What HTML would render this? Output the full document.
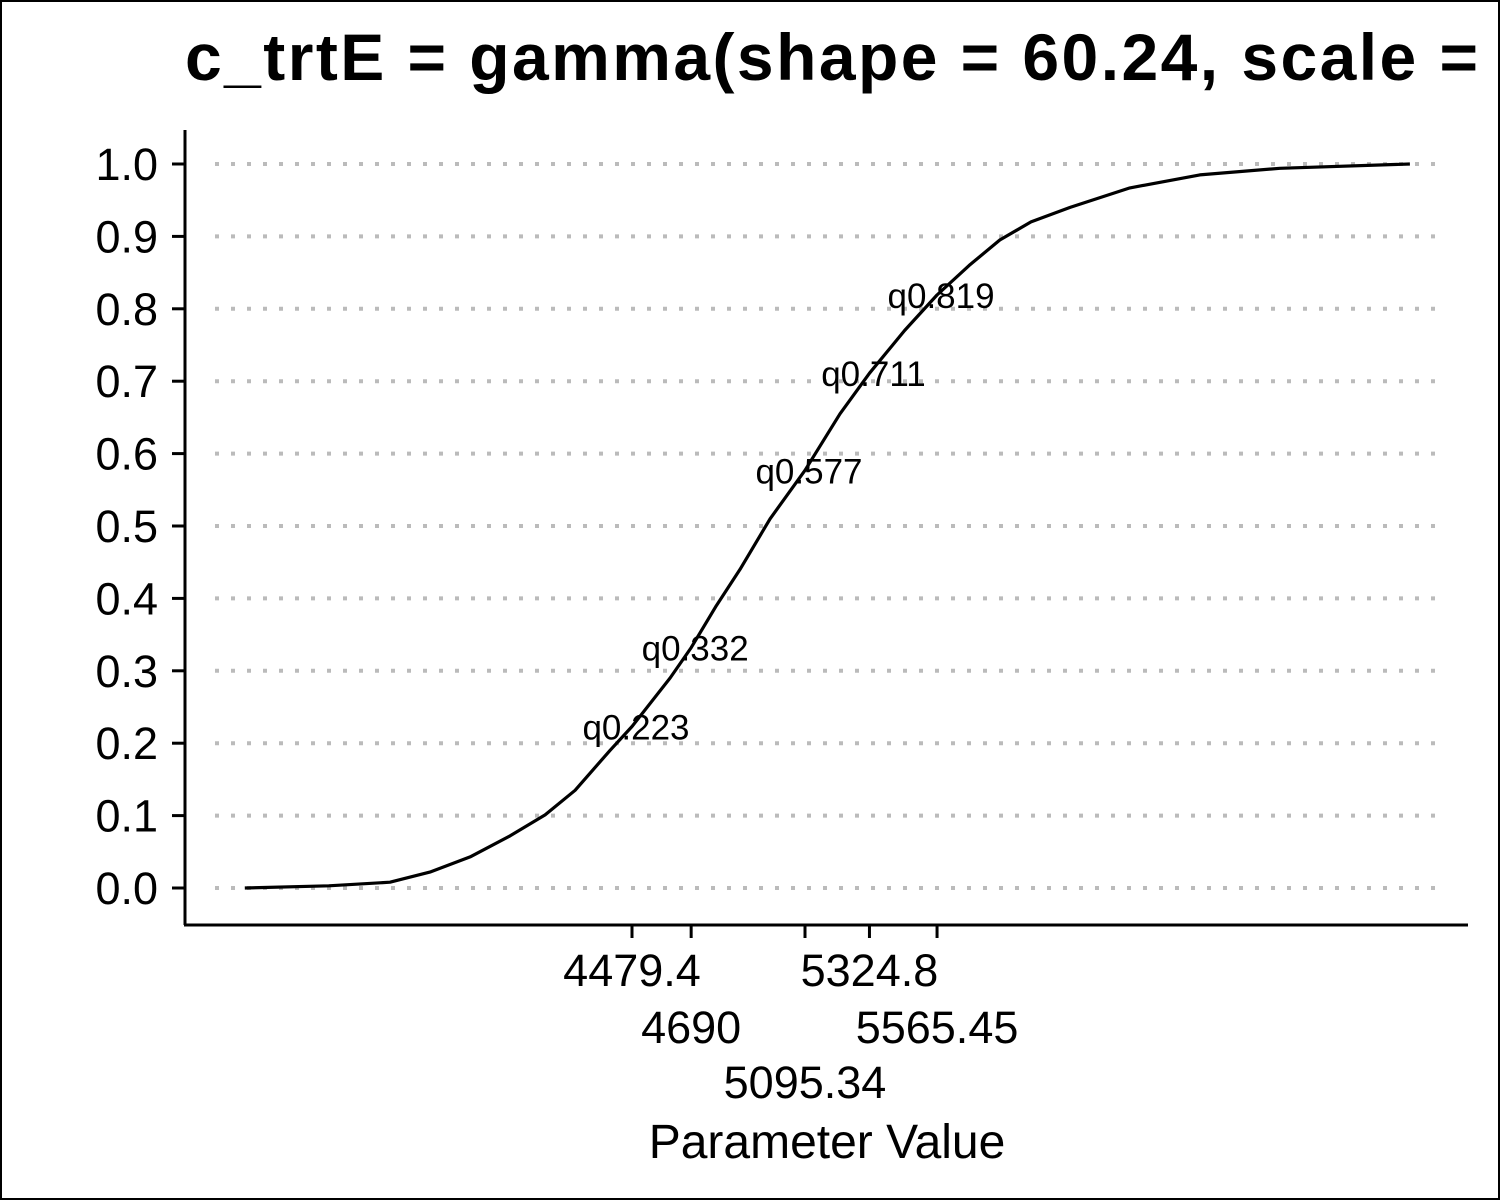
<!DOCTYPE html>
<html><head><meta charset="utf-8"><style>
html,body{margin:0;padding:0;background:#fff;}
svg{display:block;font-family:"Liberation Sans",Arial,sans-serif;}
</style></head><body>
<svg id="chart" width="1500" height="1200" viewBox="0 0 1500 1200">
<rect x="1" y="1" width="1498" height="1198" fill="#fff" stroke="#000" stroke-width="2"/>
<clipPath id="clip"><rect x="0" y="0" width="1498" height="1200"/></clipPath>
<g clip-path="url(#clip)"><text x="185" y="80" font-size="66" font-weight="bold"><tspan textLength="1293" lengthAdjust="spacing">c_trtE = gamma(shape = 60.24, scale =</tspan><tspan x="1510"> 84.58)</tspan></text></g>
<g id="grid"></g>
<g id="yaxis"></g>
<g id="xaxis"></g>
<path id="curve" fill="none" stroke="#000" stroke-width="3.2" stroke-linejoin="round"/>
<g id="labels"></g>
<text x="827" y="1158" font-size="48" text-anchor="middle">Parameter Value</text>
</svg>
<script>
const curveX=[3101,3400,3618,3760,3903,4045,4170,4277,4401,4479.4,4615,4690,4780,4864,4971,5095.34,5220,5324.8,5450,5565.45,5680,5789,5900,6039,6252,6501,6786,7249];
const curveY=[0.0,0.003,0.008,0.022,0.043,0.072,0.101,0.135,0.19,0.223,0.29,0.332,0.39,0.44,0.51,0.577,0.655,0.711,0.77,0.819,0.86,0.895,0.92,0.94,0.967,0.985,0.994,1.0];
const quantVals=[4479.4,4690,5095.34,5324.8,5565.45];
const quantProbs=[0.223,0.332,0.577,0.711,0.819];
const quantTickLabels=["4479.4","4690","5095.34","5324.8","5565.45"];
const quantLabels=["q0.223","q0.332","q0.577","q0.711","q0.819"];
const yTicks=[0,0.1,0.2,0.3,0.4,0.5,0.6,0.7,0.8,0.9,1.0];
const yTickLabels=["0.0","0.1","0.2","0.3","0.4","0.5","0.6","0.7","0.8","0.9","1.0"];

const NS="http://www.w3.org/2000/svg";
const xs=v=>632+(v-4479.4)*0.28088;
const ys=p=>888-p*724;
function mk(tag,attrs,parent,txt){const e=document.createElementNS(NS,tag);for(const k in attrs)e.setAttribute(k,attrs[k]);if(txt!==undefined)e.textContent=txt;parent.appendChild(e);return e;}
const grid=document.getElementById('grid'),ya=document.getElementById('yaxis'),xa=document.getElementById('xaxis'),lab=document.getElementById('labels');
mk('line',{x1:185,y1:130,x2:185,y2:925,stroke:'#000','stroke-width':3},ya);
mk('line',{x1:184,y1:925,x2:1468,y2:925,stroke:'#000','stroke-width':3},xa);
yTicks.forEach((t,i)=>{
 const y=ys(t);
 const g=mk('line',{x1:215,y1:y,x2:1440,y2:y,stroke:'#bbb','stroke-width':4,'stroke-dasharray':'4 12'},grid);
 
 
 mk('line',{x1:172,y1:y,x2:185,y2:y,stroke:'#000','stroke-width':3},ya);
 const tx=mk('text',{x:158,y:y+16,'font-size':45,'text-anchor':'end'},ya,yTickLabels[i]);
 
 
});
const rows=[986,1043,1098];
quantVals.forEach((v,i)=>{
 const x=xs(v);
 mk('line',{x1:x,y1:925,x2:x,y2:938,stroke:'#000','stroke-width':3},xa);
 const tx=mk('text',{x:x,y:rows[i%3],'font-size':45,'text-anchor':'middle'},xa,quantTickLabels[i]);
 
 
 const q=mk('text',{x:x+4,y:ys(quantProbs[i])+13,'font-size':35,'text-anchor':'middle'},lab,quantLabels[i]);
 
 
});
document.getElementById('curve').setAttribute('d',curveX.map((v,i)=>(i?'L':'M')+xs(v).toFixed(1)+' '+ys(curveY[i]).toFixed(1)).join(' '));
</script>
</body></html>
